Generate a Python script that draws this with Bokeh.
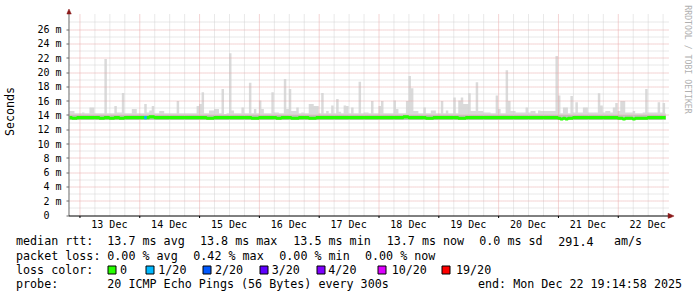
import math
from bokeh.plotting import figure
from bokeh.layouts import column
from bokeh.models import Range1d, FixedTicker
from bokeh.core.properties import value
from bokeh.embed import file_html
from bokeh.resources import INLINE

# ---------------- data (hours counted from 13 Dec 2025 00:00) ----------------
FIRST_HOUR = -4          # first bin: 12 Dec 20:00
LAST_SAMPLE = 235.25     # last sample: 22 Dec 19:15
X_END = 236.4            # right end of the time axis

# highest ping in each hour (ms) - the top of the "smoke"
smoke_max_dec12 = [14.6, 14.6, 14.3, 14.3]
smoke_max_dec13 = [14.3, 14.4, 14.3, 14.3, 15.1, 15.1, 14.3, 14.3, 14.3, 14.3, 21.9, 14.3,
                   14.3, 14.3, 15.3, 14.4, 14.4, 17.15, 14.3, 14.3, 14.3, 14.9, 14.9, 14.3]
smoke_max_dec14 = [14.3, 14.3, 15.6, 14.4, 14.7, 15.3, 14.3, 14.3, 14.6, 14.6, 14.3, 14.3,
                   14.3, 14.3, 14.3, 16.0, 14.3, 14.3, 14.3, 14.3, 14.3, 14.3, 14.3, 15.3]
smoke_max_dec15 = [15.6, 17.25, 14.3, 14.3, 14.7, 14.7, 14.9, 14.9, 14.3, 17.7, 14.2, 14.3,
                   22.7, 14.7, 14.3, 14.3, 14.3, 15.1, 14.3, 14.3, 18.55, 14.3, 14.9, 14.3]
smoke_max_dec16 = [16.1, 14.9, 14.3, 14.3, 14.3, 17.25, 14.4, 14.4, 14.3, 14.3, 19.1, 14.9,
                   17.7, 14.6, 14.6, 15.1, 14.3, 14.4, 14.3, 14.3, 15.6, 15.6, 15.3, 15.3]
smoke_max_dec17 = [14.3, 17.15, 14.3, 14.6, 14.3, 15.4, 14.3, 16.3, 14.5, 14.3, 15.4, 15.3,
                   14.3, 15.1, 14.3, 14.3, 18.7, 14.3, 14.4, 14.4, 14.3, 16.0, 14.3, 14.3]
smoke_max_dec18 = [15.3, 16.0, 14.3, 14.3, 14.3, 14.3, 16.1, 14.9, 14.3, 14.3, 14.3, 16.0,
                   19.5, 17.8, 14.6, 14.6, 14.3, 14.3, 15.1, 14.3, 14.3, 14.7, 14.7, 14.3]
smoke_max_dec19 = [14.3, 16.0, 14.3, 14.7, 14.3, 14.3, 16.5, 14.3, 16.1, 16.5, 15.6, 15.6,
                   17.1, 14.6, 14.6, 18.65, 14.6, 14.6, 14.4, 14.4, 14.4, 14.3, 14.3, 16.8]
smoke_max_dec20 = [14.9, 14.3, 14.3, 20.3, 16.0, 14.6, 14.6, 14.4, 14.4, 14.4, 14.4, 15.1,
                   14.4, 14.6, 14.6, 14.3, 14.7, 14.6, 14.6, 14.6, 14.6, 14.6, 14.6, 22.3]
smoke_max_dec21 = [16.8, 14.3, 15.1, 15.1, 14.3, 16.7, 14.4, 15.85, 14.4, 14.4, 15.1, 15.1,
                   14.4, 14.4, 14.4, 14.4, 17.1, 15.4, 14.4, 14.6, 14.6, 14.4, 15.1, 15.75]
smoke_max_dec22 = [14.6, 16.0, 16.0, 14.4, 14.4, 14.4, 14.6, 14.3, 14.3, 14.3, 14.4, 17.7,
                   14.4, 14.4, 14.4, 14.4, 15.85, 14.4, 15.75, 14.3]

# median rtt for each hour (ms)
median_dec12 = [13.7, 13.6, 13.6, 13.7]
median_dec13 = [13.7, 13.7, 13.7, 13.7, 13.7, 13.7, 13.7, 13.7, 13.6, 13.6, 13.7, 13.7,
                13.6, 13.6, 13.7, 13.7, 13.6, 13.6, 13.7, 13.7, 13.7, 13.7, 13.7, 13.7]
median_dec14 = [13.7, 13.7, 13.7, 13.7, 13.8, 13.8, 13.7, 13.7, 13.7, 13.7, 13.7, 13.7,
                13.7, 13.7, 13.7, 13.7, 13.7, 13.7, 13.7, 13.7, 13.7, 13.7, 13.7, 13.7]
median_dec15 = [13.7, 13.7, 13.7, 13.6, 13.6, 13.6, 13.7, 13.7, 13.7, 13.7, 13.7, 13.7,
                13.7, 13.7, 13.7, 13.7, 13.7, 13.7, 13.7, 13.7, 13.7, 13.6, 13.6, 13.6]
median_dec16 = [13.7, 13.7, 13.7, 13.7, 13.7, 13.7, 13.7, 13.6, 13.6, 13.7, 13.7, 13.7,
                13.7, 13.6, 13.6, 13.6, 13.7, 13.7, 13.7, 13.7, 13.6, 13.6, 13.6, 13.7]
median_dec17 = [13.7, 13.7, 13.7, 13.7, 13.7, 13.7, 13.7, 13.7, 13.7, 13.7, 13.7, 13.7,
                13.7, 13.7, 13.7, 13.7, 13.7, 13.7, 13.7, 13.7, 13.7, 13.7, 13.7, 13.7]
median_dec18 = [13.7, 13.7, 13.7, 13.7, 13.7, 13.7, 13.7, 13.7, 13.7, 13.7, 13.8, 13.8,
                13.7, 13.7, 13.7, 13.7, 13.7, 13.7, 13.7, 13.6, 13.6, 13.6, 13.7, 13.7]
median_dec19 = [13.7, 13.7, 13.7, 13.7, 13.7, 13.7, 13.7, 13.7, 13.6, 13.6, 13.6, 13.7,
                13.7, 13.7, 13.7, 13.7, 13.7, 13.7, 13.7, 13.7, 13.7, 13.7, 13.7, 13.7]
median_dec20 = [13.7, 13.7, 13.7, 13.7, 13.7, 13.7, 13.7, 13.7, 13.7, 13.7, 13.7, 13.7,
                13.7, 13.7, 13.7, 13.7, 13.7, 13.7, 13.7, 13.7, 13.7, 13.7, 13.7, 13.7]
median_dec21 = [13.6, 13.5, 13.6, 13.5, 13.6, 13.6, 13.7, 13.7, 13.7, 13.7, 13.7, 13.7,
                13.7, 13.7, 13.7, 13.7, 13.7, 13.7, 13.7, 13.7, 13.7, 13.7, 13.7, 13.7]
median_dec22 = [13.6, 13.6, 13.5, 13.6, 13.6, 13.6, 13.5, 13.6, 13.6, 13.6, 13.6, 13.6,
                13.7, 13.7, 13.7, 13.7, 13.7, 13.7, 13.7, 13.7]

# lowest ping and upper edge of the dense smoke core, per day (12 Dec .. 22 Dec)
smoke_min_daily = [13.35, 13.35, 13.35, 13.35, 13.35, 13.35, 13.35, 13.35, 13.35, 13.35, 13.35]
smoke_core_daily = [14.05, 14.05, 14.05, 14.05, 14.05, 14.05, 14.05, 14.05, 14.05, 14.05, 14.05]

# packet loss events: hour and lost pings out of 20
loss_hour = [26]
loss_count = [1]

loss_levels = ["0", "1/20", "2/20", "3/20", "4/20", "10/20", "19/20"]
loss_level_counts = [0, 1, 2, 3, 4, 10, 19]
loss_colors = ["#26ff00", "#00b8ff", "#0059ff", "#5e00ff", "#7e00ff", "#dd00ff", "#ff0000"]

ytick_values = [0, 2, 4, 6, 8, 10, 12, 14, 16, 18, 20, 22, 24, 26]
ytick_labels = ["0\u00a0\u00a0", "2 m", "4 m", "6 m", "8 m", "10 m", "12 m", "14 m",
                "16 m", "18 m", "20 m", "22 m", "24 m", "26 m"]
yminor_values = [1, 3, 5, 7, 9, 11, 13, 15, 17, 19, 21, 23, 25, 27]
xtick_labels = ["13 Dec", "14 Dec", "15 Dec", "16 Dec", "17 Dec",
                "18 Dec", "19 Dec", "20 Dec", "21 Dec", "22 Dec"]

rtt_label = "median rtt:"
rtt_stats = ["13.7 ms avg", "13.8 ms max", "13.5 ms min", "13.7 ms now", "0.0 ms sd", "291.4", "am/s"]
loss_label = "packet loss:"
loss_stats = ["0.00 % avg", "0.42 % max", "0.00 % min", "0.00 % now"]
color_label = "loss color:"
probe_label = "probe:"
probe_text = "20 ICMP Echo Pings (56 Bytes) every 300s"
end_text = "end: Mon Dec 22 19:14:58 2025"
y_title = "Seconds"
watermark = "RRDTOOL / TOBI OETIKER"

# ---------------- assemble series ----------------
smoke_max = (smoke_max_dec12 + smoke_max_dec13 + smoke_max_dec14 + smoke_max_dec15 +
             smoke_max_dec16 + smoke_max_dec17 + smoke_max_dec18 + smoke_max_dec19 +
             smoke_max_dec20 + smoke_max_dec21 + smoke_max_dec22)
median = (median_dec12 + median_dec13 + median_dec14 + median_dec15 + median_dec16 +
          median_dec17 + median_dec18 + median_dec19 + median_dec20 + median_dec21 + median_dec22)
n = len(smoke_max)
hours = [FIRST_HOUR + i for i in range(n)]
rights = [min(h + 1, LAST_SAMPLE) for h in hours]
day_idx = [h // 24 + 1 for h in hours]
lo = [smoke_min_daily[d] for d in day_idx]
core = [smoke_core_daily[d] for d in day_idx]


def step_poly(top, bottom):
    xs, ys = [], []
    for h, r, t in zip(hours, rights, top):
        xs += [h, r]
        ys += [t, t]
    bx, by = [], []
    for h, r, b in zip(hours, rights, bottom):
        bx += [h, r]
        by += [b, b]
    return xs + bx[::-1], ys + by[::-1]


# ---------------- layout ----------------
W, H_MAIN, H_LEG = 697, 234, 63
AX_X, AX_Y = 67.0, 215.0          # page pixels of the axes corner
PX_PER_HOUR, PX_PER_MS = 2.5, 7.15
FRAME_L, FRAME_T, FRAME_B = 64, 4, 218
MONO = "DejaVu Sans Mono"
ARROW = "#8b1a1a"
MAJOR_GRID, MINOR_GRID = "#e8a8a8", "#d2d2d2"


def hx(px):   # page x pixel -> hour
    return FIRST_HOUR + (px - AX_X) / PX_PER_HOUR


def vy(py):   # page y pixel -> ms
    return (AX_Y - py) / PX_PER_MS


def snap_x(h):   # put a 1px rule on a pixel centre
    return hx(math.floor(AX_X + (h - FIRST_HOUR) * PX_PER_HOUR) + 0.5)


def snap_y(v):
    return vy(math.floor(AX_Y - v * PX_PER_MS) + 0.5)


p = figure(width=W, height=H_MAIN,
           x_range=Range1d(hx(FRAME_L), hx(W)), y_range=Range1d(vy(FRAME_B), vy(FRAME_T)),
           toolbar_location=None, output_backend="svg",
           min_border_left=FRAME_L, min_border_right=0, min_border_top=FRAME_T,
           min_border_bottom=H_MAIN - FRAME_B,
           background_fill_color="white", border_fill_color="white", outline_line_color=None)
p.frame_align = False
p.xgrid.visible = False
p.ygrid.visible = False

# smoke
sx, sy = step_poly(smoke_max, lo)
p.patch(sx, sy, fill_color="#dadada", line_color=None)
cx, cy = step_poly(core, lo)
p.patch(cx, cy, fill_color="#c2c2c2", line_color=None)

# grid (dotted, limited to the graph area)
midnights = [24 * d for d in range(10)]
six_hours = [24 * d + q for d in range(-1, 10) for q in (6, 12, 18) if FIRST_HOUR < 24 * d + q < X_END]
grid_top = vy(13)
gx_minor = [snap_x(t) for t in six_hours]
gx_major = [snap_x(t) for t in midnights]
gy_minor = [snap_y(v) for v in yminor_values]
gy_major = [snap_y(v) for v in ytick_values[1:]]
p.segment(x0=gx_minor, y0=[0] * len(gx_minor), x1=gx_minor, y1=[grid_top] * len(gx_minor),
          line_color=MINOR_GRID, line_dash="1 1", line_width=1)
p.segment(x0=[FIRST_HOUR] * len(gy_minor), y0=gy_minor, x1=[X_END] * len(gy_minor), y1=gy_minor,
          line_color=MINOR_GRID, line_dash="1 1", line_width=1)
p.segment(x0=gx_major, y0=[0] * len(gx_major), x1=gx_major, y1=[grid_top] * len(gx_major),
          line_color=MAJOR_GRID, line_dash="1 1", line_width=1)
p.segment(x0=[FIRST_HOUR] * len(gy_major), y0=gy_major, x1=[X_END] * len(gy_major), y1=gy_major,
          line_color=MAJOR_GRID, line_dash="1 1", line_width=1)

# median line coloured by packet loss
mx, my = [], []
for h, r, m in zip(hours, rights, median):
    mx += [h, r]
    my += [m, m]
p.line(mx, my, line_color=loss_colors[0], line_width=3.2)
lx0, lx1, ly, lc = [], [], [], []
for lh, cnt in zip(loss_hour, loss_count):
    i = lh - FIRST_HOUR
    lx0.append(hours[i]); lx1.append(rights[i]); ly.append(median[i])
    lc.append(loss_colors[loss_level_counts.index(cnt)])
p.segment(x0=lx0, y0=ly, x1=lx1, y1=ly, line_color=lc, line_width=3.2)

# axis lines, tick marks and arrows at the graph corner
x_axis_y = vy(AX_Y + 0.5)
y_axis_x = hx(AX_X - 0.5)
ty_snap = [snap_y(v) for v in ytick_values]
p.segment(x0=[y_axis_x], y0=[x_axis_y], x1=[y_axis_x], y1=[vy(11)], line_color="#6a6a6a", line_width=1)
p.segment(x0=[hx(63.5)] * len(ty_snap), y0=ty_snap,
          x1=[y_axis_x] * len(ty_snap), y1=ty_snap, line_color="#6a6a6a", line_width=1)
p.segment(x0=gx_major, y0=[x_axis_y] * len(gx_major), x1=gx_major, y1=[vy(217.5)] * len(gx_major),
          line_color="#000000", line_width=1)
p.segment(x0=[y_axis_x], y0=[x_axis_y], x1=[hx(669)], y1=[x_axis_y], line_color="#000000", line_width=1)
p.patch([hx(64.2), hx(66.5), hx(68.8)], [vy(13.5), vy(8.5), vy(13.5)],
        fill_color=ARROW, line_color=ARROW, line_width=0.5)
p.patch([hx(667.5), hx(673.5), hx(667.5)], [vy(212.8), vy(215.5), vy(218.2)],
        fill_color=ARROW, line_color=ARROW, line_width=0.5)

# watermark
p.text(x=[hx(687.5)], y=[vy(59)], text=[watermark], angle=-math.pi / 2,
       text_font=value(MONO), text_font_size="8.2px", text_color="#b0b0b0",
       text_align="center", text_baseline="middle")

# y axis: labels only (line and ticks drawn at the corner above)
yax = p.yaxis[0]
yax.ticker = FixedTicker(ticks=ytick_values, minor_ticks=[])
yax.major_label_overrides = {v: t for v, t in zip(ytick_values, ytick_labels)}
yax.major_label_text_font = MONO
yax.major_label_text_font_size = "10px"
yax.major_label_text_color = "#000000"
yax.major_tick_out = 0
yax.major_tick_in = 0
yax.minor_tick_out = 0
yax.minor_tick_in = 0
yax.major_tick_line_color = None
yax.minor_tick_line_color = None
yax.axis_line_color = None
yax.major_label_standoff = 5
yax.axis_label = y_title
yax.axis_label_text_font = MONO
yax.axis_label_text_font_size = "11.7px"
yax.axis_label_text_font_style = "normal"
yax.axis_label_text_color = "#000000"
yax.axis_label_standoff = 17

# x axis: labels at noon of each day
noons = [24 * d + 12 for d in range(10)]
xax = p.xaxis[0]
xax.ticker = FixedTicker(ticks=noons, minor_ticks=[])
xax.major_label_overrides = {v: t for v, t in zip(noons, xtick_labels)}
xax.major_label_text_font = MONO
xax.major_label_text_font_size = "10px"
xax.major_label_text_color = "#000000"
xax.major_tick_out = 0
xax.major_tick_in = 0
xax.minor_tick_out = 0
xax.minor_tick_in = 0
xax.major_tick_line_color = None
xax.minor_tick_line_color = None
xax.axis_line_color = None
xax.major_label_standoff = 0

# ---------------- legend block below the graph ----------------
q = figure(width=W, height=H_LEG, x_range=Range1d(0, W), y_range=Range1d(H_MAIN + H_LEG, H_MAIN),
           toolbar_location=None, output_backend="svg",
           x_axis_location=None, y_axis_location=None,
           min_border_left=0, min_border_right=0, min_border_top=0, min_border_bottom=0,
           background_fill_color="white", border_fill_color="white", outline_line_color=None)
q.frame_align = False
q.xgrid.visible = False
q.ygrid.visible = False

ROW1, ROW2, ROW3, ROW4 = 240.7, 255.0, 269.3, 283.7
COL0 = 15.5
tx, ty, tt = [], [], []


def put(x, y, t):
    tx.append(x); ty.append(y); tt.append(t)


put(COL0, ROW1, rtt_label)
for x, t in zip([106.8, 199.5, 292.8, 386.2, 478.8, 557.8, 613.5], rtt_stats):
    put(x, ROW1, t)
put(COL0, ROW2, loss_label)
for x, t in zip([106.8, 192.8, 278.8, 364.5], loss_stats):
    put(x, ROW2, t)
put(COL0, ROW3, color_label)
box_x = [107.5, 145.5, 202.5, 259.5, 316.5, 377.5, 441.5]
lev_x = [119.5, 157.8, 214.5, 271.2, 327.8, 391.2, 455.5]
for x, t in zip(lev_x, loss_levels):
    put(x, ROW3, t)
put(COL0, ROW4, probe_label)
put(106.8, ROW4, probe_text)
put(477.5, ROW4, end_text)

q.text(x=tx, y=ty, text=tt, text_font=value(MONO), text_font_size="11.7px",
       text_color="#000000", text_align="left", text_baseline="middle")
q.quad(left=box_x, right=[b + 8 for b in box_x],
       top=[265.5] * len(box_x), bottom=[273.5] * len(box_x),
       fill_color=loss_colors, line_color="#000000", line_width=1)

layout = column(p, q, spacing=0)
open("out.html", "w").write(file_html(layout, INLINE))
